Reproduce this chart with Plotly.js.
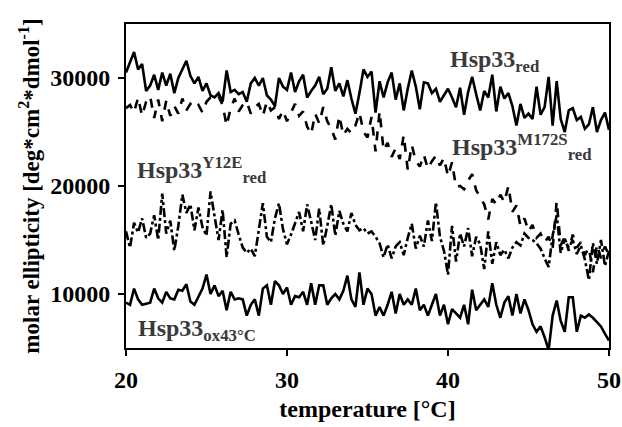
<!DOCTYPE html>
<html>
<head>
<meta charset="utf-8">
<script src="https://cdn.plot.ly/plotly-3.0.1.min.js"></script>
<style>html,body{margin:0;padding:0;background:#fff;}#chart{width:622px;height:427px;}</style>
</head>
<body>
<div id="chart"></div>
<script>
// temperature [°C]
const temperature = [20,20.25,20.5,20.75,21,21.25,21.5,21.75,22,22.25,22.5,22.75,23,23.25,23.5,23.75,24,24.25,24.5,24.75,25,25.25,25.5,25.75,26,26.25,26.5,26.75,27,27.25,27.5,27.75,28,28.25,28.5,28.75,29,29.25,29.5,29.75,30,30.25,30.5,30.75,31,31.25,31.5,31.75,32,32.25,32.5,32.75,33,33.25,33.5,33.75,34,34.25,34.5,34.75,35,35.25,35.5,35.75,36,36.25,36.5,36.75,37,37.25,37.5,37.75,38,38.25,38.5,38.75,39,39.25,39.5,39.75,40,40.25,40.5,40.75,41,41.25,41.5,41.75,42,42.25,42.5,42.75,43,43.25,43.5,43.75,44,44.25,44.5,44.75,45,45.25,45.5,45.75,46,46.25,46.5,46.75,47,47.25,47.5,47.75,48,48.25,48.5,48.75,49,49.25,49.5,49.75,50];

const hsp33Red = [30500,31500,32400,30800,31300,28800,29300,30300,28900,30500,29300,30400,28600,30000,30800,31600,30200,29500,30100,28800,29500,28400,28200,28600,27800,30700,28700,28900,28500,28700,27800,29500,30000,29300,30000,28400,28000,27400,30000,29200,28900,30500,28700,29700,30300,28200,28800,29300,30100,28500,29000,31000,28800,29500,28300,29800,28100,26700,28600,30800,30100,30600,26800,29700,28200,29600,30500,28000,29500,27000,29000,30700,29200,27100,29600,29500,28600,29000,27800,28400,29000,28200,27300,29100,26600,28700,30100,28500,27000,28800,28200,30300,26900,29200,28100,28600,27400,25600,27600,26300,26700,26200,29200,26600,27300,30100,25600,29700,26200,25000,27000,27200,26100,26400,25300,25700,27300,25000,26100,26800,25200];

const hsp33M172SRed = [27200,27500,26800,28200,26500,27800,28300,26300,28000,26000,27900,26500,27400,26700,28100,27000,27600,27200,27500,26800,27800,28200,28000,28300,27500,25600,27200,28100,26900,27500,27800,26700,27300,27600,26500,27800,27000,27300,26200,27000,26000,26800,27600,26500,26900,25500,24800,26700,25800,27300,26000,25300,24300,26500,24700,25300,24900,25600,26800,25000,24500,26400,23200,26900,23300,24000,22700,23500,22500,24700,21500,23800,22300,21800,22900,21600,22300,22800,21900,22600,20900,22200,19900,20000,19700,20500,21100,19600,19000,18300,16900,18800,18300,19200,18500,20000,17600,18200,16300,17000,15800,16400,15200,15600,14800,15300,14200,18600,14500,15300,14000,15500,14300,14800,13600,14300,12000,14600,13300,14400,13600];

const hsp33Y12ERed = [15800,14300,16600,15700,17000,15200,15600,17300,15000,19300,15600,16800,14000,16300,19200,17500,18300,15900,18000,16200,15400,19500,17200,15000,17800,13400,16500,16800,15500,14300,13800,14200,13500,15800,18400,15300,14800,17000,18400,16000,14600,15500,16500,17600,15800,18300,16700,15000,17900,14500,16300,18300,15400,17700,16500,15800,17500,16400,15900,16100,15600,15800,15300,14700,13400,14600,13300,14400,14800,13600,15200,16500,14200,15400,14400,16800,14900,18500,15300,14000,11800,16300,13000,15600,14400,16100,13500,15300,14600,12300,15800,12800,14800,13600,14100,13300,14300,14800,14500,15600,15200,15000,14700,14200,13300,12500,15400,17300,13800,15100,14300,15000,13700,14500,13200,11300,14700,12800,15000,12600,14000];

const hsp33Ox43 = [9200,9000,10500,9500,9000,9100,9200,10500,9600,9200,10200,9600,9500,10400,10300,10900,9300,9000,9800,10500,11800,10000,10800,9800,10300,8500,10200,9500,9600,9500,8000,9000,9500,8000,10500,10800,9000,11200,10800,10000,10600,9000,9800,9700,10200,9000,11000,9000,10800,10800,9000,9600,10000,9500,10300,11700,9500,8800,12000,9000,10500,10000,8000,8800,8000,9000,10200,8200,10000,9000,9500,9000,10500,8500,9000,8000,9000,10000,8000,9000,7200,8600,8200,7800,9000,7200,10400,8500,9000,9500,8800,11000,9000,7800,9200,9800,8000,10000,8200,9500,8500,7200,6500,7000,6000,4800,8000,9400,7500,6500,9700,9700,6500,8000,7800,8100,7800,7400,7000,6300,5700];

const xTickVals = [20,30,40,50];
const xTickText = ['20','30','40','50'];
const yTickVals = [10000,20000,30000];
const yTickText = ['10000','20000','30000'];

const FONT = '"Liberation Serif","Times New Roman",serif';
const lineW = 2.6;

const traces = [
  {x: temperature, y: hsp33Red, mode: 'lines', line: {color: '#000', width: lineW, dash: 'solid'}, name: 'Hsp33red'},
  {x: temperature, y: hsp33M172SRed, mode: 'lines', line: {color: '#000', width: lineW, dash: 'dash'}, name: 'Hsp33M172Sred'},
  {x: temperature, y: hsp33Y12ERed, mode: 'lines', line: {color: '#000', width: lineW, dash: 'dashdot'}, name: 'Hsp33Y12Ered'},
  {x: temperature, y: hsp33Ox43, mode: 'lines', line: {color: '#000', width: lineW, dash: 'solid'}, name: 'Hsp33ox43'}
];

const annFont = {family: FONT, size: 24, color: '#3a3a3a'};
const layout = {
  width: 622, height: 427,
  margin: {l: 126, r: 13, t: 24, b: 79},
  paper_bgcolor: '#fff', plot_bgcolor: '#fff',
  showlegend: false,
  font: {family: FONT, color: '#000'},
  xaxis: {
    range: [20, 50], tickmode: 'array', tickvals: xTickVals, ticktext: xTickText,
    ticks: 'outside', ticklen: 6, tickwidth: 2, tickcolor: '#000', ticklabelstandoff: 3,
    showline: true, linewidth: 2, linecolor: '#000', mirror: true, showgrid: false, zeroline: false,
    tickfont: {family: FONT, size: 24, color: '#000', weight: 'bold'},
    title: {text: '<b>temperature [°C]</b>', font: {family: FONT, size: 24, color: '#000'}, standoff: 8}
  },
  yaxis: {
    range: [5000, 35000], tickmode: 'array', tickvals: yTickVals, ticktext: yTickText,
    ticks: 'outside', ticklen: 6, tickwidth: 2, tickcolor: '#000', ticklabelstandoff: 3,
    showline: true, linewidth: 2, linecolor: '#000', mirror: true, showgrid: false, zeroline: false,
    tickfont: {family: FONT, size: 24, color: '#000', weight: 'bold'},
    title: {text: '<b>molar ellipticity [deg*cm<sup>2</sup>*dmol<sup>-1</sup>]</b>', font: {family: FONT, size: 23, color: '#000'}, standoff: 4}
  },
  annotations: [
    {x: 40.0, y: 31600, xref: 'x', yref: 'y', text: '<b>Hsp33<sub>red</sub></b>', showarrow: false, xanchor: 'left', yanchor: 'middle', font: annFont},
    {x: 40.1, y: 23600, xref: 'x', yref: 'y', text: '<b>Hsp33<sup>M172S</sup><sub>red</sub></b>', showarrow: false, xanchor: 'left', yanchor: 'middle', font: annFont},
    {x: 20.55, y: 21500, xref: 'x', yref: 'y', text: '<b>Hsp33<sup>Y12E</sup><sub>red</sub></b>', showarrow: false, xanchor: 'left', yanchor: 'middle', font: annFont},
    {x: 20.65, y: 6700, xref: 'x', yref: 'y', text: '<b>Hsp33<sub>ox43°C</sub></b>', showarrow: false, xanchor: 'left', yanchor: 'middle', font: annFont}
  ]
};

Plotly.newPlot('chart', traces, layout, {staticPlot: true, displayModeBar: false});
</script>
</body>
</html>
